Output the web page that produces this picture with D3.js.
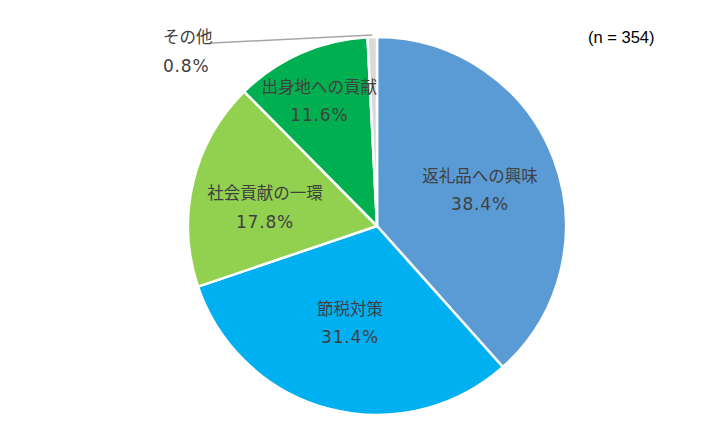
<!DOCTYPE html>
<html>
<head>
<meta charset="utf-8">
<script src="https://cdn.jsdelivr.net/npm/d3@7"></script>
<style>
  body { margin: 0; background: #fff; }
  svg text { font-family: "Noto Sans CJK JP", "Noto Sans", sans-serif; fill: #404040; }
  svg tspan.pct { font-family: "DejaVu Sans", sans-serif; letter-spacing: 0.8px; }
</style>
</head>
<body>
<div id="chart"></div>
<script>
// Data
const categories = ["返礼品への興味", "節税対策", "社会貢献の一環", "出身地への貢献", "その他"];
const shares = [38.4, 31.4, 17.8, 11.6, 0.8];
const colors = ["#5B9BD5", "#00B0F0", "#92D050", "#00B050", "#D9D9D9"];
const sampleLabel = "(n = 354)";

// label nudges off the centroid (Excel moved some labels to fit)
const labelNudge = [[4, 2], [0, -5], [-9, 6], [-15, -28], null];

const width = 728, height = 437;
const cx = 377, cy = 226, radius = 189;
const labelR = radius * 0.56;

const svg = d3.select("#chart")
    .append("svg")
    .attr("width", width)
    .attr("height", height);

const g = svg.append("g")
    .attr("transform", `translate(${cx},${cy})`);

const pie = d3.pie().sort(null).value(d => d.value);
const arcs = pie(categories.map((c, i) => ({ name: c, value: shares[i], i })));

const arc = d3.arc().innerRadius(0).outerRadius(radius);
const labelArc = d3.arc().innerRadius(labelR).outerRadius(labelR);

g.selectAll("path.slice")
    .data(arcs)
    .join("path")
    .attr("class", "slice")
    .attr("d", arc)
    .attr("fill", d => colors[d.data.i])
    .attr("stroke", "#fff")
    .attr("stroke-width", 2.5)
    .attr("stroke-linejoin", "round");

// inside labels
arcs.forEach(d => {
    const n = labelNudge[d.data.i];
    if (!n) return;
    const c = labelArc.centroid(d);
    const x = c[0] + n[0], y = c[1] + n[1];
    const t = g.append("text")
        .attr("text-anchor", "middle")
        .attr("font-size", 16.5);
    t.append("tspan").attr("x", x).attr("y", y - 8.5).text(d.data.name);
    t.append("tspan").attr("class", "pct").attr("x", x).attr("y", y + 20).attr("font-size", 17).text(d.data.value.toFixed(1) + "%");
});

// outside label for the tiny slice, with leader line
const other = arcs[4];
const mid = (other.startAngle + other.endAngle) / 2;
const edge = [Math.sin(mid) * (radius + 2), -Math.cos(mid) * (radius + 2)];
g.append("line")
    .attr("x1", edge[0]).attr("y1", edge[1])
    .attr("x2", -165).attr("y2", -183)
    .attr("stroke", "#A6A6A6")
    .attr("stroke-width", 1.5);

const ot = g.append("text").attr("font-size", 16.5).attr("text-anchor", "start");
ot.append("tspan").attr("x", -214).attr("y", -183).text(other.data.name);
ot.append("tspan").attr("class", "pct").attr("x", -214).attr("y", -154).attr("font-size", 17).text(other.data.value.toFixed(1) + "%");

svg.append("text")
    .attr("x", 588)
    .attr("y", 43)
    .attr("font-size", 16.5)
    .style("font-family", "'Liberation Sans', Arial, sans-serif")
    .style("fill", "#000")
    .text(sampleLabel);
</script>
</body>
</html>
